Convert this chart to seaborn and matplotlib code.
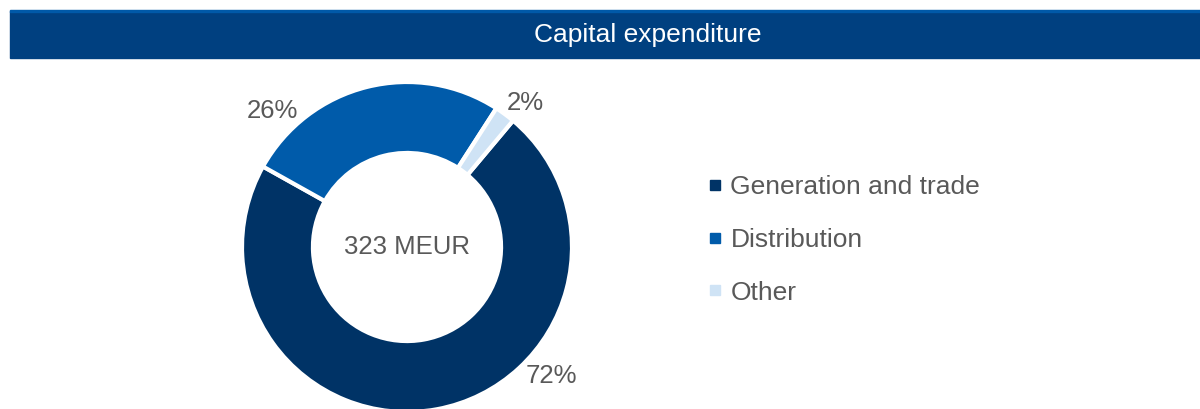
import numpy as np
import matplotlib
matplotlib.use("Agg")
import matplotlib.pyplot as plt
import seaborn as sns
from matplotlib.patches import Rectangle
from matplotlib.lines import Line2D

sns.set_theme(style="white")
plt.rcParams['font.family'] = ['Liberation Sans', 'DejaVu Sans']

# data
segments = ['Generation and trade', 'Distribution', 'Other']
shares = [72, 26, 2]
total_label = '323 MEUR'
title = 'Capital expenditure'

colors = ['#003366', '#005BAA', '#CFE3F5']
text_grey = '#595959'

W, H = 1200, 409
fig = plt.figure(figsize=(W / 100, H / 100), dpi=100)

# header bar
fig.patches.append(Rectangle((10 / W, (H - 58) / H), 1 - 10 / W, 47 / H,
                             transform=fig.transFigure, color='#004080', zorder=0))
fig.patches.append(Rectangle((10 / W, (H - 12) / H), 1 - 10 / W, 2 / H,
                             transform=fig.transFigure, color='#0059A8', zorder=1))
fig.text(648 / W, (H - 35) / H, title, color='white', fontsize=19,
         ha='center', va='center')

# donut
cx, cy, R = 407, 247, 165
ax = fig.add_axes([(cx - R) / W, (H - cy - R) / H, 2 * R / W, 2 * R / H])
wedges, _ = ax.pie(shares, colors=colors, startangle=50, counterclock=False,
                   radius=1, wedgeprops=dict(width=0.43, edgecolor='white', linewidth=3))
ax.set_xlim(-1, 1)
ax.set_ylim(-1, 1)
ax.set_aspect('equal')
ax.axis('off')

# labels (angle in degrees, radius relative to outer)
label_pos = [(-41.8, 1.17), (134.6, 1.16), (50.5, 1.13)]
for s, (ang, r) in zip(shares, label_pos):
    t = np.deg2rad(ang)
    ax.text(r * np.cos(t), r * np.sin(t), f'{s}%', color=text_grey, fontsize=18.5,
            ha='center', va='center', clip_on=False)
ax.text(0, 0, total_label, color=text_grey, fontsize=18.5, ha='center', va='center')

# legend
handles = [Line2D([], [], marker='s', linestyle='', markersize=6.5,
                  markerfacecolor=c, markeredgecolor=c) for c in colors]
fig.legend(handles, segments, loc='center left', bbox_to_anchor=(708 / W, (H - 240) / H),
           frameon=False, fontsize=19, labelcolor=text_grey, handlelength=0.5,
           handletextpad=0.35, labelspacing=1.08, borderpad=0, borderaxespad=0)

fig.savefig('out.png', dpi=100)
